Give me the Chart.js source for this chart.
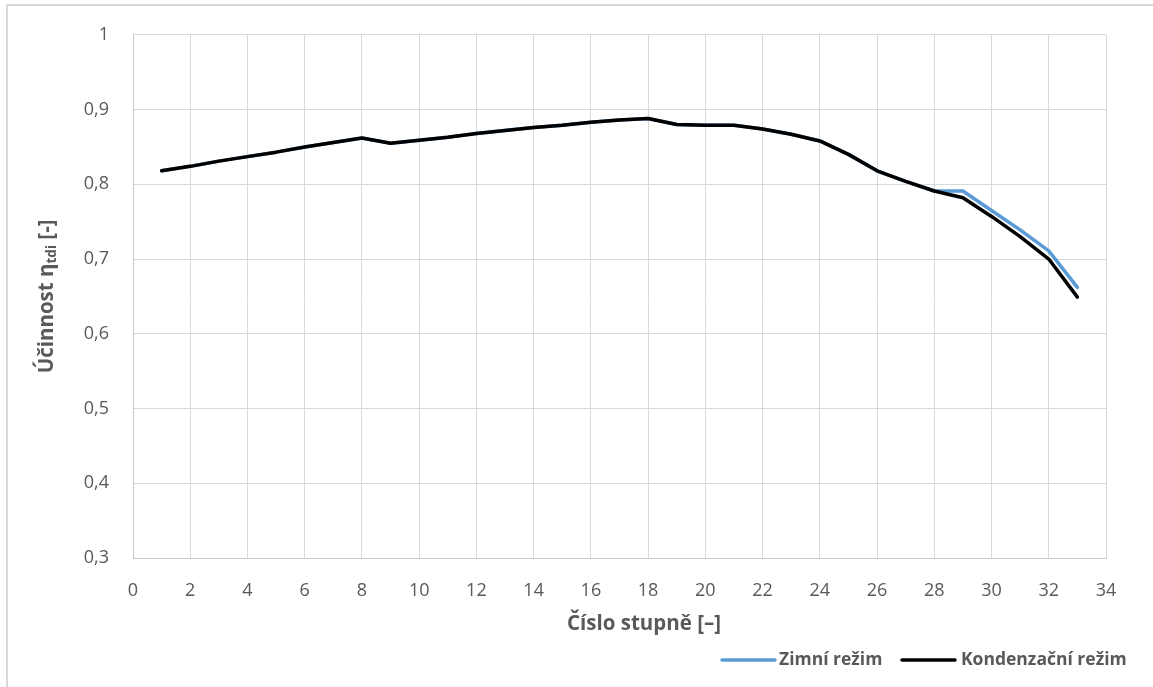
<!DOCTYPE html>
<html lang="cs">
<head>
<meta charset="utf-8">
<title>Účinnost stupňů</title>
<script src="https://cdn.jsdelivr.net/npm/chart.js@4.4.1/dist/chart.umd.min.js"></script>
<style>
  html, body { margin: 0; padding: 0; background: #ffffff; }
  #wrap { width: 1153px; height: 687px; position: relative; }
</style>
</head>
<body>
<div id="wrap"><canvas id="chart" width="1153" height="687"></canvas></div>
<script>
// Stage numbers (x) and efficiency per stage for both operating modes
const stages = [1,2,3,4,5,6,7,8,9,10,11,12,13,14,15,16,17,18,19,20,21,22,23,24,25,26,27,28,29,30,31,32,33];
const zimniRezim = [0.818,0.824,0.831,0.837,0.843,0.850,0.856,0.862,0.855,0.859,0.863,0.868,0.872,0.876,0.879,0.883,0.886,0.888,0.880,0.879,0.879,0.874,0.867,0.858,0.840,0.818,0.804,0.791,0.791,0.765,0.739,0.711,0.662];
const kondenzacniRezim = [0.818,0.824,0.831,0.837,0.843,0.850,0.856,0.862,0.855,0.859,0.863,0.868,0.872,0.876,0.879,0.883,0.886,0.888,0.880,0.879,0.879,0.874,0.867,0.858,0.840,0.818,0.804,0.791,0.782,0.757,0.730,0.700,0.649];
const seriesNames = ['Zimní režim', 'Kondenzační režim'];
const seriesColors = ['#5b9bd5', '#000000'];
const xTicks = [0,2,4,6,8,10,12,14,16,18,20,22,24,26,28,30,32,34];
const yTicks = [0.3,0.4,0.5,0.6,0.7,0.8,0.9,1];
const xTitle = 'Číslo stupně [–]';
const yTitleMain = 'Účinnost η';
const yTitleSub = 'tdi';
const yTitleEnd = ' [-]';

const TEXT = '#595959';
const GRID = '#d9d9d9';
const FONT = '"Open Sans", "DejaVu Sans", sans-serif';

const toPoints = vals => stages.map((s, i) => ({ x: s, y: vals[i] }));
const decimalComma = v => (Math.round(v * 10) / 10 === 1 ? '1' : v.toFixed(1).replace('.', ','));

// Frame, axis titles and legend drawn around the plot area
const decorations = {
  id: 'decorations',
  beforeDraw(chart) {
    const ctx = chart.ctx;
    ctx.save();
    ctx.fillStyle = '#ffffff';
    ctx.fillRect(0, 0, chart.width, chart.height);
    ctx.strokeStyle = GRID;
    ctx.lineWidth = 2;
    ctx.beginPath();
    ctx.moveTo(7, chart.height);
    ctx.lineTo(7, 5);
    ctx.lineTo(chart.width, 5);
    ctx.stroke();
    ctx.restore();
  },
  afterDraw(chart) {
    const ctx = chart.ctx;
    const area = chart.chartArea;
    ctx.save();
    ctx.fillStyle = TEXT;
    ctx.textBaseline = 'middle';

    // x axis title
    ctx.font = 'bold 20.5px ' + FONT;
    ctx.textAlign = 'center';
    ctx.fillText(xTitle, 644, 624);

    // y axis title with subscript, rotated
    const mainFont = 'bold 20.5px ' + FONT;
    const subFont = 'bold 13.5px ' + FONT;
    ctx.font = mainFont;
    const w1 = ctx.measureText(yTitleMain).width;
    const w3 = ctx.measureText(yTitleEnd).width;
    ctx.font = subFont;
    const w2 = ctx.measureText(yTitleSub).width;
    const total = w1 + w2 + w3;
    ctx.translate(47, (area.top + area.bottom) / 2);
    ctx.rotate(-Math.PI / 2);
    ctx.textAlign = 'left';
    let x = -total / 2;
    ctx.font = mainFont;
    ctx.fillText(yTitleMain, x, 0);
    x += w1;
    ctx.font = subFont;
    ctx.fillText(yTitleSub, x, 5);
    x += w2;
    ctx.font = mainFont;
    ctx.fillText(yTitleEnd, x, 0);
    ctx.setTransform(1, 0, 0, 1, 0, 0);

    // legend
    const legendY = 660;
    const entries = [
      { lineX: 722, textX: 779 },
      { lineX: 902, textX: 961 }
    ];
    ctx.font = 'bold 17.5px ' + FONT;
    ctx.textAlign = 'left';
    entries.forEach((e, i) => {
      ctx.strokeStyle = seriesColors[i];
      ctx.lineWidth = 3.5;
      ctx.lineCap = 'round';
      ctx.beginPath();
      ctx.moveTo(e.lineX, legendY);
      ctx.lineTo(e.lineX + 53, legendY);
      ctx.stroke();
      ctx.fillStyle = TEXT;
      ctx.fillText(seriesNames[i], e.textX, legendY);
    });
    ctx.restore();
  }
};

new Chart(document.getElementById('chart'), {
  type: 'line',
  data: {
    datasets: [
      {
        label: seriesNames[0],
        data: toPoints(zimniRezim),
        borderColor: seriesColors[0],
        backgroundColor: seriesColors[0],
        borderWidth: 3.5,
        pointRadius: 0,
        tension: 0,
        borderJoinStyle: 'round',
        borderCapStyle: 'round',
        order: 2
      },
      {
        label: seriesNames[1],
        data: toPoints(kondenzacniRezim),
        borderColor: seriesColors[1],
        backgroundColor: seriesColors[1],
        borderWidth: 3.5,
        pointRadius: 0,
        tension: 0,
        borderJoinStyle: 'round',
        borderCapStyle: 'round',
        order: 1
      }
    ]
  },
  options: {
    responsive: false,
    animation: false,
    devicePixelRatio: 1,
    layout: { padding: { left: 0, right: 47, top: 32, bottom: 0 } },
    plugins: {
      legend: { display: false },
      tooltip: { enabled: false }
    },
    scales: {
      x: {
        type: 'linear',
        min: 0,
        max: 34,
        afterBuildTicks: scale => { scale.ticks = xTicks.map(v => ({ value: v })); },
        afterFit: scale => { scale.height = 129; },
        grid: { color: GRID, lineWidth: 1, drawTicks: false },
        border: { color: '#c8c8c8', width: 1 },
        ticks: {
          color: TEXT,
          font: { family: FONT, size: 18 },
          padding: 22,
          maxRotation: 0,
          autoSkip: false,
          callback: v => String(v)
        }
      },
      y: {
        min: 0.3,
        max: 1,
        afterBuildTicks: scale => { scale.ticks = yTicks.map(v => ({ value: v })); },
        afterFit: scale => { scale.width = 133; },
        grid: { color: GRID, lineWidth: 1, drawTicks: false },
        border: { color: '#c8c8c8', width: 1 },
        ticks: {
          color: TEXT,
          font: { family: FONT, size: 18 },
          padding: 24,
          autoSkip: false,
          callback: v => decimalComma(v)
        }
      }
    }
  },
  plugins: [decorations]
});
</script>
</body>
</html>
